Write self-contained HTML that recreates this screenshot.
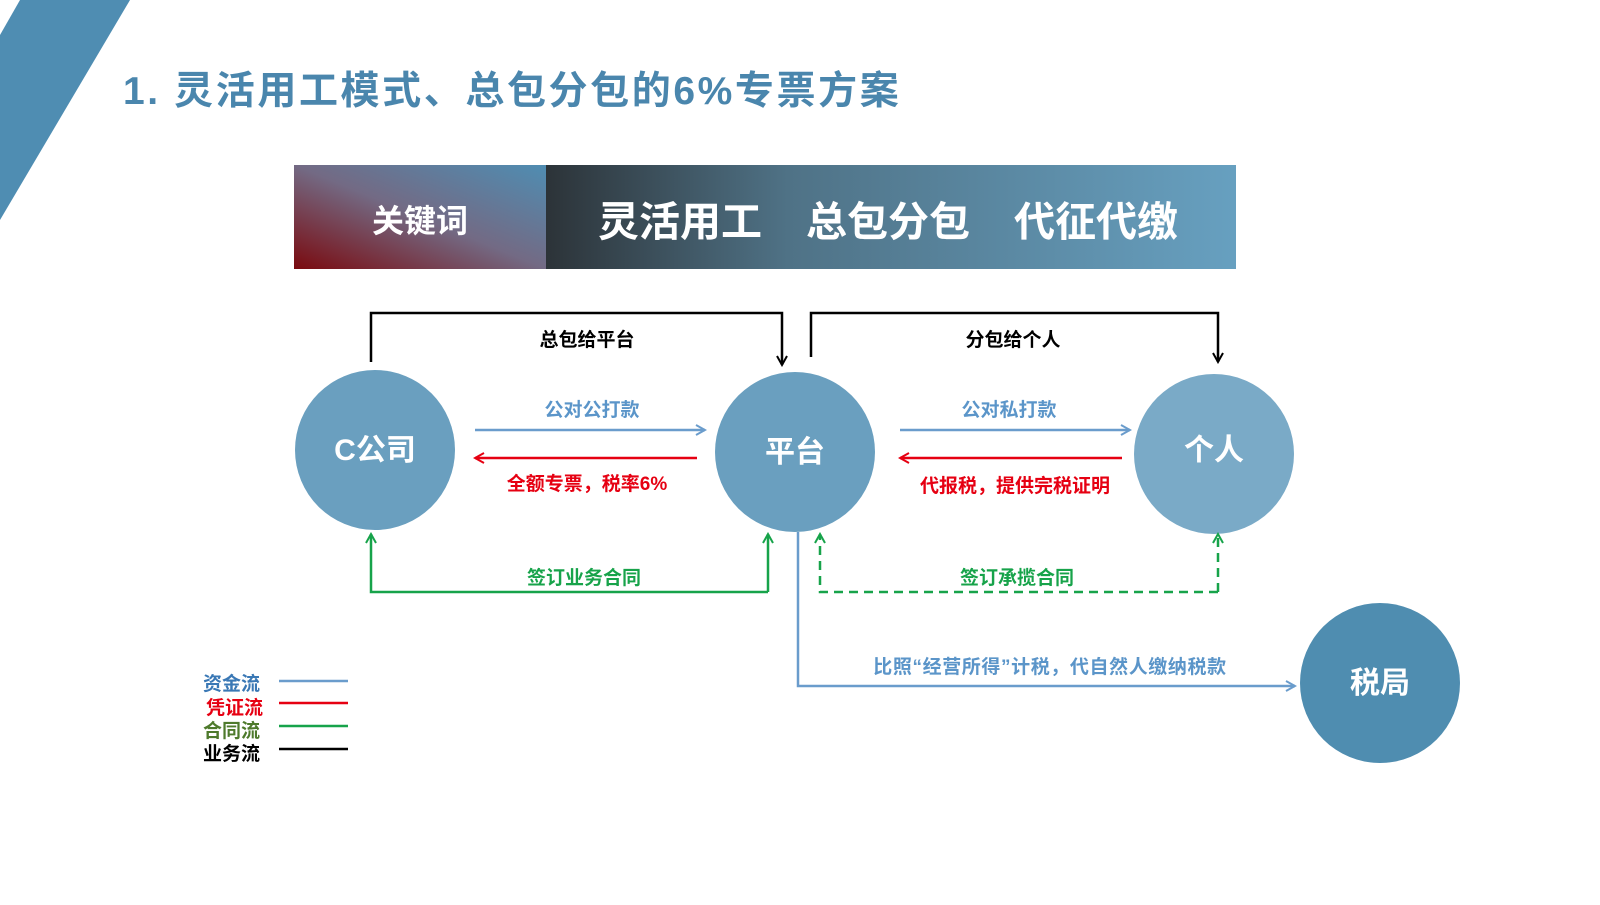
<!DOCTYPE html>
<html><head><meta charset="utf-8"><style>
body{margin:0;background:#fff;}
svg text{font-family:"Liberation Sans","Noto Sans CJK SC",sans-serif;font-weight:bold;}
</style></head><body>
<svg width="1600" height="900" viewBox="0 0 1600 900" xmlns="http://www.w3.org/2000/svg">
<defs>
<linearGradient id="g1" x1="0" y1="1" x2="1" y2="0">
<stop offset="0" stop-color="#7a0a0f"/><stop offset="0.5" stop-color="#736a84"/><stop offset="1" stop-color="#4f8db2"/></linearGradient>
<linearGradient id="g2" x1="0" y1="0" x2="1" y2="0">
<stop offset="0" stop-color="#2c3338"/><stop offset="0.35" stop-color="#4f7286"/><stop offset="1" stop-color="#67a0c0"/></linearGradient>
<marker id="ab" markerWidth="12" markerHeight="12" refX="10" refY="6" orient="auto" markerUnits="userSpaceOnUse"><path d="M1,1 L10,6 L1,11" fill="none" stroke="#6a9ccc" stroke-width="2"/></marker>
<marker id="ar" markerWidth="12" markerHeight="12" refX="10" refY="6" orient="auto" markerUnits="userSpaceOnUse"><path d="M1,1 L10,6 L1,11" fill="none" stroke="#e60012" stroke-width="2"/></marker>
<marker id="ag" markerWidth="12" markerHeight="12" refX="10" refY="6" orient="auto" markerUnits="userSpaceOnUse"><path d="M1,1 L10,6 L1,11" fill="none" stroke="#17a34a" stroke-width="2"/></marker>
<marker id="ak" markerWidth="12" markerHeight="12" refX="10" refY="6" orient="auto" markerUnits="userSpaceOnUse"><path d="M1,1 L10,6 L1,11" fill="none" stroke="#000" stroke-width="2"/></marker>
</defs>
<polygon points="0,0 130,0 0,220" fill="#4f8db2"/>
<polygon points="0,0 20,0 0,35" fill="#fff"/>
<text x="123" y="104" font-size="39" fill="#4a86ad" letter-spacing="2.6">1. 灵活用工模式、总包分包的6%专票方案</text>
<rect x="294" y="165" width="252" height="104" fill="url(#g1)"/>
<rect x="546" y="165" width="690" height="104" fill="url(#g2)"/>
<text x="420" y="232" font-size="32" fill="#fff" text-anchor="middle">关键词</text>
<text x="598" y="236" font-size="41" fill="#fff">灵活用工</text>
<text x="806" y="236" font-size="41" fill="#fff">总包分包</text>
<text x="1014" y="236" font-size="41" fill="#fff">代征代缴</text>
<polyline points="371,362 371,313 782,313 782,365" fill="none" stroke="#000" stroke-width="2.5" marker-end="url(#ak)"/>
<polyline points="811,357 811,313 1218,313 1218,362" fill="none" stroke="#000" stroke-width="2.5" marker-end="url(#ak)"/>
<text x="587" y="346" font-size="19" fill="#000" text-anchor="middle">总包给平台</text>
<text x="1013" y="346" font-size="19" fill="#000" text-anchor="middle">分包给个人</text>
<circle cx="375" cy="450" r="80" fill="#6a9fbf"/>
<circle cx="795" cy="452" r="80" fill="#6a9fbf"/>
<circle cx="1214" cy="454" r="80" fill="#7aaac7"/>
<circle cx="1380" cy="683" r="80" fill="#4f8db0"/>
<text x="375" y="460" font-size="30" fill="#fff" text-anchor="middle">C公司</text>
<text x="795" y="462" font-size="30" fill="#fff" text-anchor="middle">平台</text>
<text x="1214" y="460" font-size="30" fill="#fff" text-anchor="middle">个人</text>
<text x="1380" y="693" font-size="30" fill="#fff" text-anchor="middle">税局</text>
<line x1="475" y1="430" x2="705" y2="430" stroke="#6a9ccc" stroke-width="2.5" marker-end="url(#ab)"/>
<line x1="697" y1="458" x2="475" y2="458" stroke="#e60012" stroke-width="2.5" marker-end="url(#ar)"/>
<text x="592" y="416" font-size="19" fill="#5b95c9" text-anchor="middle">公对公打款</text>
<text x="587" y="490" font-size="19" fill="#e60012" text-anchor="middle">全额专票，税率6%</text>
<line x1="900" y1="430" x2="1130" y2="430" stroke="#6a9ccc" stroke-width="2.5" marker-end="url(#ab)"/>
<line x1="1122" y1="458" x2="900" y2="458" stroke="#e60012" stroke-width="2.5" marker-end="url(#ar)"/>
<text x="1009" y="416" font-size="19" fill="#5b95c9" text-anchor="middle">公对私打款</text>
<text x="1015" y="492" font-size="19" fill="#e60012" text-anchor="middle">代报税，提供完税证明</text>
<polyline points="768,592 371,592 371,534" fill="none" stroke="#17a34a" stroke-width="2.5" marker-end="url(#ag)"/>
<polyline points="768,592 768,534" fill="none" stroke="#17a34a" stroke-width="2.5" marker-end="url(#ag)"/>
<text x="584" y="584" font-size="19" fill="#17a34a" text-anchor="middle">签订业务合同</text>
<polyline points="1218,592 820,592 820,534" fill="none" stroke="#17a34a" stroke-width="2.5" stroke-dasharray="9,6" marker-end="url(#ag)"/>
<polyline points="1218,592 1218,534" fill="none" stroke="#17a34a" stroke-width="2.5" stroke-dasharray="9,6" marker-end="url(#ag)"/>
<text x="1017" y="584" font-size="19" fill="#17a34a" text-anchor="middle">签订承揽合同</text>
<polyline points="798,532 798,686 1295,686" fill="none" stroke="#6a9ccc" stroke-width="2.5" marker-end="url(#ab)"/>
<text x="1050" y="673" font-size="19" fill="#5b95c9" text-anchor="middle" letter-spacing="0.6">比照“经营所得”计税，代自然人缴纳税款</text>
<text x="203" y="690" font-size="19" fill="#3a78b5">资金流</text>
<text x="206" y="714" font-size="19" fill="#e60012">凭证流</text>
<text x="203" y="737" font-size="19" fill="#4e7a2c">合同流</text>
<text x="203" y="760" font-size="19" fill="#000">业务流</text>
<line x1="279" y1="681" x2="348" y2="681" stroke="#6a9ccc" stroke-width="2.5"/>
<line x1="279" y1="703" x2="348" y2="703" stroke="#e60012" stroke-width="2.5"/>
<line x1="279" y1="726" x2="348" y2="726" stroke="#17a34a" stroke-width="2.5"/>
<line x1="279" y1="749" x2="348" y2="749" stroke="#000" stroke-width="2.5"/>
</svg>
</body></html>
